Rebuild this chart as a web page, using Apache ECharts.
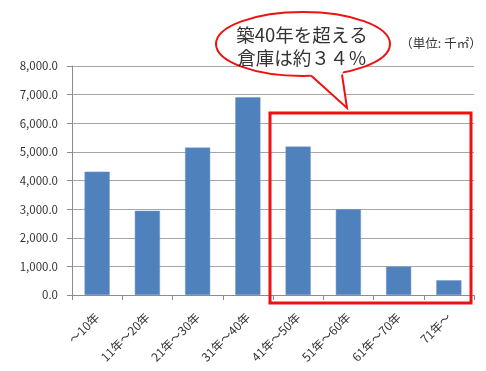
<!DOCTYPE html>
<html>
<head>
<meta charset="utf-8">
<script src="https://cdn.jsdelivr.net/npm/echarts@6/dist/echarts.min.js"></script>
<style>html,body{margin:0;padding:0;background:#fff}#c{width:486px;height:371px}</style>
</head>
<body>
<div id="c"></div>
<script>
var categories = ['～10年','11年～20年','21年～30年','31年～40年','41年～50年','51年～60年','61年～70年','71年～'];
var values = [4310, 2940, 5150, 6910, 5185, 2995, 990, 515];
var yTicks = {min: 0, max: 8000, interval: 1000};
var unitText = '（単位: 千㎡）';
var calloutLines = ['築40年を超える', '倉庫は約３４％'];

var chart = echarts.init(document.getElementById('c'), null, {renderer: 'canvas'});
var font = "'Noto Sans CJK JP', 'Noto Sans', sans-serif";
chart.setOption({
  animation: false,
  grid: {left: 72, right: 12, top: 66, bottom: 76},
  xAxis: {
    type: 'category',
    data: categories,
    axisLine: {lineStyle: {color: '#8c8c8c', width: 1}},
    axisTick: {show: true, length: 5, lineStyle: {color: '#8c8c8c'}},
    axisLabel: {rotate: 45, margin: 20, color: '#333', fontSize: 12, fontFamily: font, interval: 0}
  },
  yAxis: {
    type: 'value',
    min: yTicks.min, max: yTicks.max, interval: yTicks.interval,
    axisLine: {show: true, lineStyle: {color: '#8c8c8c', width: 1}},
    axisTick: {show: true, length: 5, lineStyle: {color: '#8c8c8c'}},
    splitLine: {lineStyle: {color: '#a6a6a6', width: 1}},
    axisLabel: {
      margin: 14, color: '#333', fontSize: 11.5, fontFamily: font,
      formatter: function (v) { return v.toLocaleString('en-US', {minimumFractionDigits: 1, maximumFractionDigits: 1}); }
    }
  },
  series: [{
    type: 'bar',
    data: values,
    barWidth: '50%',
    itemStyle: {color: '#4f81bd', borderColor: '#6f97c8', borderWidth: 0.5}
  }],
  graphic: [
    {type: 'rect', shape: {x: 270, y: 113, width: 201, height: 190}, style: {fill: 'none', stroke: '#ee1111', lineWidth: 3}, z: 100},
    {type: 'ellipse', shape: {cx: 303, cy: 44, rx: 87, ry: 32}, style: {fill: '#fff', stroke: '#ee1111', lineWidth: 2}, z: 101},
    {type: 'polygon', shape: {points: [[309, 70], [311, 76], [347, 108], [342, 74], [344, 70]]}, style: {fill: '#fff'}, z: 102},
    {type: 'polyline', shape: {points: [[311, 75.5], [347, 108], [342, 74.5]]}, style: {stroke: '#ee1111', lineWidth: 2, fill: 'none'}, z: 103},
    {type: 'text', x: 302, y: 35, style: {text: calloutLines[0], fontSize: 18.5, fontFamily: font, fill: '#333', align: 'center', verticalAlign: 'middle'}, z: 104},
    {type: 'text', x: 302, y: 58, style: {text: calloutLines[1], fontSize: 18.5, fontFamily: font, fill: '#333', align: 'center', verticalAlign: 'middle'}, z: 104},
    {type: 'text', x: 441, y: 43, style: {text: unitText, fontSize: 12.5, fontFamily: font, fill: '#333', align: 'center', verticalAlign: 'middle'}, z: 104}
  ]
});
</script>
</body>
</html>
